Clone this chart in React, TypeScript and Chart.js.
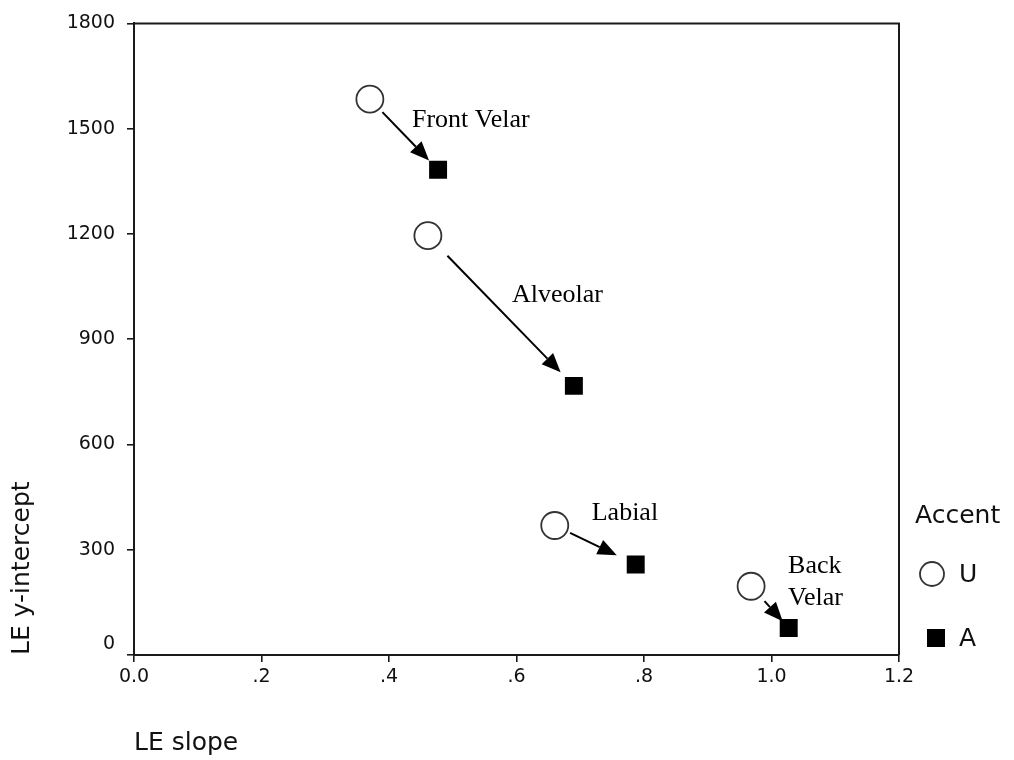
import React, { useEffect, useRef } from 'react';
import { Chart, registerables } from 'chart.js';

Chart.register(...registerables);

// ---- data ----
const categories = ['Front Velar', 'Alveolar', 'Labial', 'Back Velar'];
const seriesNames = ['U', 'A'];
const uSlope = [0.37, 0.461, 0.66, 0.968];
const uIntercept = [1584, 1195, 369, 196];
const aSlope = [0.477, 0.69, 0.787, 1.027];
const aIntercept = [1383, 767, 258, 77];
const xTicks = [0, 0.2, 0.4, 0.6, 0.8, 1.0, 1.2];
const xTickLabels = ['0.0', '.2', '.4', '.6', '.8', '1.0', '1.2'];
const yTicks = [0, 300, 600, 900, 1200, 1500, 1800];
const yTickLabels = ['0', '300', '600', '900', '1200', '1500', '1800'];
// annotation text anchors (data coordinates)
const labelLines = [['Front Velar'], ['Alveolar'], ['Labial'], ['Back', 'Velar']];
const labelX = [0.436, 0.593, 0.718, 1.026];
const labelY = [1525, 1025, 403, 253];

// ---- styles ----
const SANS = '"DejaVu Sans", sans-serif';
const SERIF = '"Liberation Serif", "Times New Roman", serif';
const AXIS = '#1a1a1a';
const arrowStartGap = [18, 28, 17, 20];
const arrowEndGap = [13, 19, 21, 9];

const annotPlugin = {
  id: 'annot',
  afterDatasetsDraw(chart: any) {
    const { ctx, chartArea, scales } = chart;
    const xs = scales.x;
    const ys = scales.y;
    ctx.save();
    // frame top and right
    ctx.strokeStyle = AXIS;
    ctx.lineWidth = 2;
    ctx.beginPath();
    ctx.moveTo(chartArea.left, chartArea.top);
    ctx.lineTo(chartArea.right, chartArea.top);
    ctx.lineTo(chartArea.right, chartArea.bottom);
    ctx.stroke();

    // arrows
    ctx.strokeStyle = '#000';
    ctx.fillStyle = '#000';
    ctx.lineWidth = 2;
    for (let i = 0; i < categories.length; i++) {
      const x0 = xs.getPixelForValue(uSlope[i]);
      const y0 = ys.getPixelForValue(uIntercept[i]);
      const x1 = xs.getPixelForValue(aSlope[i]);
      const y1 = ys.getPixelForValue(aIntercept[i]);
      const dx = x1 - x0;
      const dy = y1 - y0;
      const len = Math.hypot(dx, dy);
      const ux = dx / len;
      const uy = dy / len;
      const sx = x0 + ux * arrowStartGap[i];
      const sy = y0 + uy * arrowStartGap[i];
      const tx = x1 - ux * arrowEndGap[i];
      const ty = y1 - uy * arrowEndGap[i];
      const headLen = 19;
      const headHalf = 8;
      const bx = tx - ux * headLen;
      const by = ty - uy * headLen;
      ctx.beginPath();
      ctx.moveTo(sx, sy);
      ctx.lineTo(bx, by);
      ctx.stroke();
      ctx.beginPath();
      ctx.moveTo(tx, ty);
      ctx.lineTo(bx - uy * headHalf, by + ux * headHalf);
      ctx.lineTo(bx + uy * headHalf, by - ux * headHalf);
      ctx.closePath();
      ctx.fill();
    }

    // labels
    ctx.font = `26px ${SERIF}`;
    ctx.textAlign = 'left';
    ctx.textBaseline = 'middle';
    ctx.fillStyle = '#000';
    for (let i = 0; i < labelLines.length; i++) {
      const px = xs.getPixelForValue(labelX[i]);
      const py = ys.getPixelForValue(labelY[i]);
      labelLines[i].forEach((t, j) => ctx.fillText(t, px, py + j * 32));
    }

    // legend
    const lx = chartArea.right;
    ctx.font = `25px ${SANS}`;
    ctx.fillStyle = '#111';
    ctx.fillText('Accent', lx + 16, 516);
    // U marker
    ctx.beginPath();
    ctx.arc(lx + 33, 574, 12, 0, Math.PI * 2);
    ctx.fillStyle = '#fff';
    ctx.fill();
    ctx.strokeStyle = '#333';
    ctx.lineWidth = 1.8;
    ctx.stroke();
    ctx.fillStyle = '#111';
    ctx.fillText(seriesNames[0], lx + 60, 575);
    // A marker
    ctx.fillStyle = '#000';
    ctx.fillRect(lx + 28, 629, 18, 18);
    ctx.fillStyle = '#111';
    ctx.fillText(seriesNames[1], lx + 60, 639);
    ctx.restore();
  },
};

export default function App() {
  const ref = useRef<HTMLCanvasElement>(null);
  useEffect(() => {
    document.body.style.margin = '0';
    const canvas = ref.current!;
    const chart = new Chart(canvas, {
      type: 'scatter',
      data: {
        datasets: [
          {
            label: seriesNames[0],
            data: uSlope.map((v, i) => ({ x: v, y: uIntercept[i] })),
            pointStyle: 'circle',
            pointRadius: 13.5,
            pointHoverRadius: 13.5,
            backgroundColor: '#fff',
            borderColor: '#333',
            borderWidth: 1.8,
          },
          {
            label: seriesNames[1],
            data: aSlope.map((v, i) => ({ x: v, y: aIntercept[i] })),
            pointStyle: 'rect',
            pointRadius: 12.7,
            pointHoverRadius: 12.7,
            backgroundColor: '#000',
            borderColor: '#000',
            borderWidth: 0,
          },
        ],
      },
      options: {
        animation: false,
        responsive: false,
        events: [],
        layout: { padding: { left: 0, top: 21, right: 115, bottom: 0 } },
        plugins: {
          legend: { display: false },
          tooltip: { enabled: false },
        },
        scales: {
          x: {
            type: 'linear',
            min: 0,
            max: 1.2,
            afterBuildTicks: (s: any) => {
              s.ticks = xTicks.map((v) => ({ value: v }));
            },
            afterFit: (s: any) => {
              s.height = 105;
            },
            ticks: {
              callback: (_v: any, i: number) => xTickLabels[i],
              font: { family: SANS, size: 19 },
              color: '#111',
              padding: 4,
              maxRotation: 0,
              autoSkip: false,
            },
            grid: { drawOnChartArea: false, drawTicks: true, tickLength: 7, color: AXIS, lineWidth: 1.6 },
            border: { display: true, color: AXIS, width: 2 },
            title: {
              display: true,
              text: 'LE slope',
              align: 'start',
              font: { family: SANS, size: 25, lineHeight: 1 },
              color: '#111',
              padding: { top: 0, bottom: 4 },
            },
          },
          y: {
            type: 'linear',
            min: 0,
            max: 1800,
            afterBuildTicks: (s: any) => {
              s.ticks = yTicks.map((v) => ({ value: v }));
            },
            afterFit: (s: any) => {
              s.width = 134;
            },
            ticks: {
              callback: (_v: any, i: number) => (i === 0 ? [yTickLabels[i], ''] : yTickLabels[i]),
              font: { family: SANS, size: 19 },
              color: '#111',
              padding: 12,
              autoSkip: false,
            },
            grid: { drawOnChartArea: false, drawTicks: true, tickLength: 7, color: AXIS, lineWidth: 1.6 },
            border: { display: true, color: AXIS, width: 2 },
            title: {
              display: true,
              text: 'LE y-intercept',
              align: 'start',
              font: { family: SANS, size: 25, lineHeight: 1 },
              color: '#111',
              padding: { top: 10, bottom: 0 },
            },
          },
        },
      },
      plugins: [annotPlugin],
    });
    return () => chart.destroy();
  }, []);
  return (
    <div style={{ width: 1014, height: 760, overflow: 'hidden', background: '#fff' }}>
      <canvas ref={ref} width={1014} height={760} style={{ width: 1014, height: 760, display: 'block' }} />
    </div>
  );
}
